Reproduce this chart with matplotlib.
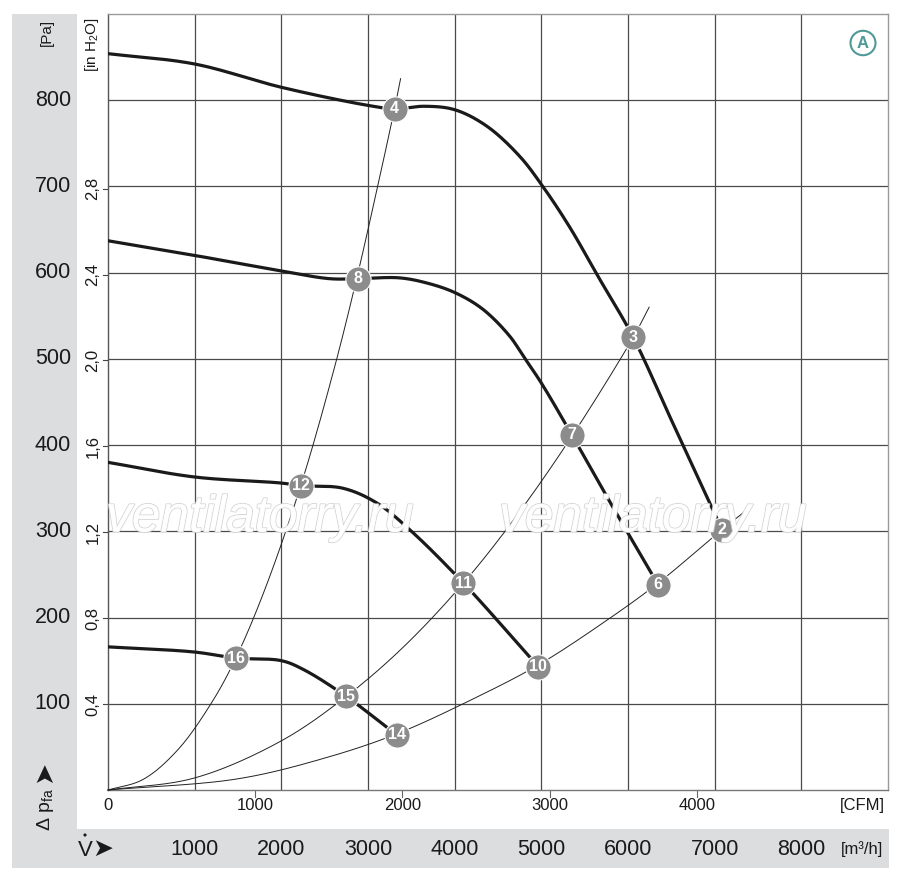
import numpy as np
import matplotlib
matplotlib.use("Agg")
import matplotlib.pyplot as plt
import matplotlib.patheffects as pe
from matplotlib.patches import Rectangle, Circle
from matplotlib.transforms import blended_transform_factory

plt.rcParams['font.family'] = ['Liberation Sans Narrow', 'Liberation Sans', 'DejaVu Sans']
plt.rcParams['mathtext.fontset'] = 'custom'
plt.rcParams['mathtext.rm'] = 'Liberation Sans'
plt.rcParams['mathtext.it'] = 'Liberation Sans'

# fan curves, flow in m3/h, pressure in Pa
fanA_q = [0, 1000, 2000, 3000, 3306, 3650, 4000, 4370, 4750, 5010, 5320, 5670, 6060, 6510, 7085]
fanA_p = [854, 842, 815, 794, 790, 793, 789, 770, 735, 701, 654, 593, 525, 427, 302]
fanB_q = [0, 1000, 2000, 2560, 2880, 3360, 3680, 4000, 4320, 4630, 4800, 5000, 5357, 5780, 6348]
fanB_p = [637, 620, 602, 593, 593, 594, 588, 577, 558, 527, 502, 472, 411, 336, 238]
fanC_q = [0, 1000, 2000, 2224, 2710, 3100, 3480, 4101, 4965]
fanC_p = [380, 363, 356, 353, 350, 333, 302, 240, 143]
fanD_q = [0, 1000, 1475, 2000, 2250, 2742, 3330]
fanD_p = [166, 160, 153, 150, 140, 109, 64]

# system curves
sys1_q = [0, 400, 800, 1200, 1475, 1800, 2224, 2600, 2869, 3100, 3306, 3376]
sys1_p = [0, 12, 46, 102, 153, 230, 353, 485, 593, 695, 790, 825]
sys2_q = [0, 1000, 2000, 2742, 3400, 4101, 4700, 5357, 6060, 6244]
sys2_p = [0, 14, 57, 108, 165, 240, 316, 411, 525, 560]
sys3_q = [0, 1500, 2500, 3330, 4200, 4965, 5700, 6348, 7085, 7373]
sys3_p = [0, 13, 37, 65, 105, 145, 193, 240, 302, 325]

# operating points
op_labels = ['4', '3', '2', '8', '7', '6', '12', '11', '10', '16', '15', '14']
op_q = [3306, 6060, 7085, 2880, 5357, 6348, 2224, 4101, 4965, 1475, 2742, 3330]
op_p = [790, 525, 302, 593, 412, 238, 353, 240, 143, 153, 109, 64]

pa_ticks = [100, 200, 300, 400, 500, 600, 700, 800]
inh2o_ticks = [0.4, 0.8, 1.2, 1.6, 2.0, 2.4, 2.8]
inh2o_labels = ['0,4', '0,8', '1,2', '1,6', '2,0', '2,4', '2,8']
m3h_ticks = [1000, 2000, 3000, 4000, 5000, 6000, 7000, 8000]
cfm_ticks = [0, 1000, 2000, 3000, 4000]

PA_PER_INH2O = 249.09
M3H_PER_CFM = 1.699


def smooth(xs, ys, n=24, alpha=0.5):
    # centripetal catmull-rom through the read points (scaled to roughly pixel units)
    sx, sy = 0.0868, 0.865
    P = np.column_stack([np.asarray(xs) * sx, np.asarray(ys) * sy]).astype(float)
    P = np.vstack([2 * P[0] - P[1], P, 2 * P[-1] - P[-2]])
    out = []
    for i in range(1, len(P) - 2):
        p0, p1, p2, p3 = P[i - 1], P[i], P[i + 1], P[i + 2]
        t0 = 0.0
        t1 = t0 + np.linalg.norm(p1 - p0) ** alpha
        t2 = t1 + np.linalg.norm(p2 - p1) ** alpha
        t3 = t2 + np.linalg.norm(p3 - p2) ** alpha
        t = np.linspace(t1, t2, n, endpoint=False)[:, None]
        a1 = (t1 - t) / (t1 - t0) * p0 + (t - t0) / (t1 - t0) * p1
        a2 = (t2 - t) / (t2 - t1) * p1 + (t - t1) / (t2 - t1) * p2
        a3 = (t3 - t) / (t3 - t2) * p2 + (t - t2) / (t3 - t2) * p3
        b1 = (t2 - t) / (t2 - t0) * a1 + (t - t0) / (t2 - t0) * a2
        b2 = (t3 - t) / (t3 - t1) * a2 + (t - t1) / (t3 - t1) * a3
        c = (t2 - t) / (t2 - t1) * b1 + (t - t1) / (t2 - t1) * b2
        out.append(c)
    out.append(P[-2][None, :])
    out = np.vstack(out)
    return out[:, 0] / sx, out[:, 1] / sy


W, H = 900, 880
fig = plt.figure(figsize=(9, 8.8), dpi=100)


def fx(x):
    return x / W


def fy(y):
    return 1 - y / H


# grey strips
strip = '#dcdddf'
fig.add_artist(Rectangle((fx(12), fy(868)), (77 - 12) / W, (868 - 14) / H,
                         transform=fig.transFigure, facecolor=strip, edgecolor='none', zorder=0))
fig.add_artist(Rectangle((fx(12), fy(868)), (889 - 12) / W, (868 - 829) / H,
                         transform=fig.transFigure, facecolor=strip, edgecolor='none', zorder=0))

ax = fig.add_axes([fx(108), fy(790), (888 - 108) / W, (790 - 14) / H])
ax.set_xlim(0, 9000)
ax.set_ylim(0, 900)
ax.set_xticks(m3h_ticks)
ax.set_yticks(pa_ticks)
ax.tick_params(length=0, labelbottom=False, labelleft=False)
ax.grid(True, color='#4a4a4a', linewidth=0.9)
ax.set_axisbelow(True)
for s in ax.spines.values():
    s.set_color('#9a9a9a')
    s.set_linewidth(1.0)
ax.spines['left'].set_color('#555555')
ax.spines['bottom'].set_color('#777777')

# system curves
for q, p in [(sys1_q, sys1_p), (sys2_q, sys2_p), (sys3_q, sys3_p)]:
    xs, ys = smooth(q, p)
    ax.plot(xs, ys, color='#222222', linewidth=0.7, zorder=4, clip_on=False)

# fan curves
for q, p in [(fanA_q, fanA_p), (fanB_q, fanB_p), (fanC_q, fanC_p), (fanD_q, fanD_p)]:
    xs, ys = smooth(q, p)
    ax.plot(xs, ys, color='#1a1a1a', linewidth=2.3, zorder=5, solid_capstyle='round')

# operating points
ax.scatter(op_q, op_p, s=330, color='#8c8c8c', edgecolors='white', linewidths=0.8, zorder=6)
for lab, q, p in zip(op_labels, op_q, op_p):
    ax.text(q, p, lab, color='white', fontsize=11.5, fontweight='bold',
            ha='center', va='center', zorder=7)

# watermark
for xw in [260, 653]:
    fig.text(fx(xw), fy(518), 'ventilatorry.ru', fontsize=37, style='italic',
             family=['Liberation Sans', 'DejaVu Sans'], color='white',
             ha='center', va='center', zorder=8, alpha=0.9,
             path_effects=[pe.withStroke(linewidth=1.4, foreground='#d2d2d2'),
                           pe.Normal()])

# Pa labels in the grey strip
tr_y = blended_transform_factory(fig.transFigure, ax.transData)
for v in pa_ticks:
    fig.text(fx(71), v, str(v), transform=tr_y, fontsize=15.5, ha='right', va='center',
             color='#1a1a1a')
fig.text(fx(47), fy(32), '[Pa]', rotation=90, fontsize=11, ha='center', va='center',
         color='#1a1a1a')

# in H2O labels
for v, lab in zip(inh2o_ticks, inh2o_labels):
    yv = v * PA_PER_INH2O
    fig.text(fx(93), yv, lab, transform=tr_y, rotation=90, fontsize=12, ha='center',
             va='center', color='#1a1a1a')
    ax.plot([-60, 0], [yv, yv], color='#444444', linewidth=0.8, clip_on=False, zorder=2)
fig.text(fx(92), fy(45), r'[in H$_2$O]', rotation=90, fontsize=11, ha='center',
         va='center', color='#1a1a1a')

# delta p label
fig.text(fx(46), fy(810), r'$\Delta$ p$_{\mathrm{fa}}$', rotation=90, fontsize=14,
         ha='center', va='center', color='#1a1a1a')
fig.text(fx(44), fy(772), '\u27a4', rotation=90, fontsize=19, ha='center', va='center',
         color='#1a1a1a', family=['DejaVu Sans'])

# CFM axis
tr_x = blended_transform_factory(ax.transData, fig.transFigure)
for v in cfm_ticks:
    xv = v * M3H_PER_CFM
    fig.text(xv, fy(805), str(v), transform=tr_x, fontsize=12, ha='center', va='center',
             color='#1a1a1a')
    if v > 0:
        ax.plot([xv, xv], [0, -8], color='#666666', linewidth=0.8, clip_on=False)
fig.text(fx(862), fy(805), '[CFM]', fontsize=12, ha='center', va='center', color='#1a1a1a')

# m3/h axis in bottom strip
for v in m3h_ticks:
    fig.text(v, fy(849), str(v), transform=tr_x, fontsize=15.5, ha='center', va='center',
             color='#1a1a1a')
fig.text(fx(862), fy(849), '[m\u00b3/h]', fontsize=12, ha='center', va='center',
         color='#1a1a1a')
fig.text(fx(85), fy(850), 'V', fontsize=16, ha='center', va='center', color='#1a1a1a')
fig.add_artist(Circle((fx(85), fy(835)), 1.6 / W, transform=fig.transFigure,
                      facecolor='#1a1a1a', edgecolor='none'))
fig.text(fx(103), fy(849), '\u27a4', fontsize=18, ha='center', va='center',
         color='#1a1a1a', family=['DejaVu Sans'])

# curve set marker "A"
fig.add_artist(Circle((fx(863), fy(43)), 12.5 / W, transform=fig.transFigure,
                      facecolor='none', edgecolor='#4f9a97', linewidth=1.5, zorder=8))
fig.text(fx(863), fy(43), 'A', fontsize=12, fontweight='bold', ha='center', va='center',
         color='#4f9a97', zorder=9)

fig.savefig('out.png', dpi=100)
